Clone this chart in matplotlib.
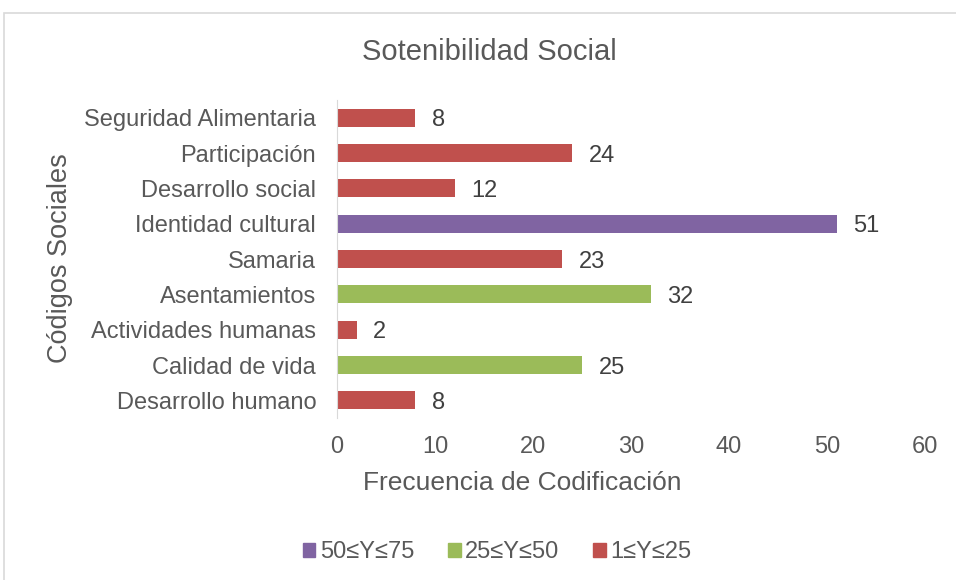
import matplotlib.pyplot as plt
from matplotlib.patches import Patch, Rectangle

plt.rcParams['font.family'] = ['Liberation Sans', 'DejaVu Sans']

# data (bottom to top)
categories = ['Desarrollo humano', 'Calidad de vida', 'Actividades humanas',
              'Asentamientos', 'Samaria', 'Identidad cultural',
              'Desarrollo social', 'Participación', 'Seguridad Alimentaria']
values = [8, 25, 2, 32, 23, 51, 12, 24, 8]
ranges = ['1≤Y≤25', '25≤Y≤50', '1≤Y≤25', '25≤Y≤50', '1≤Y≤25', '50≤Y≤75',
          '1≤Y≤25', '1≤Y≤25', '1≤Y≤25']
legend_order = ['50≤Y≤75', '25≤Y≤50', '1≤Y≤25']

colors = {'50≤Y≤75': '#8064A2', '25≤Y≤50': '#9BBB59', '1≤Y≤25': '#C0504D'}
txt = '#595959'

fig = plt.figure(figsize=(9.56, 5.8), dpi=100)
ax = fig.add_axes([0.3525, 0.2793, 0.615, 0.548])

# chart border
fig.patches.append(Rectangle((4 / 956, -0.05), 1.0, 1 - 13 / 580 + 0.05,
                             transform=fig.transFigure, fill=False,
                             edgecolor='#D9D9D9', linewidth=1.2))

y = range(len(categories))
ax.barh(y, values, height=0.51, color=[colors[r] for r in ranges])
for i, v in enumerate(values):
    ax.text(v + 1.7, i, str(v), va='center_baseline', ha='left', fontsize=17, color='#404040')

ax.set_xlim(0, 60)
ax.set_ylim(-0.5, len(categories) - 0.5)
ax.set_yticks(list(y))
ax.set_yticklabels(categories)
ax.set_xticks(range(0, 61, 10))
ax.tick_params(axis='both', length=0, labelsize=17, labelcolor=txt)
ax.tick_params(axis='x', pad=13)
ax.tick_params(axis='y', pad=15)

for s in ['top', 'right', 'bottom']:
    ax.spines[s].set_visible(False)
ax.spines['left'].set_color('#D9D9D9')

fig.text(522 / 956, 1 - 483 / 580, 'Frecuencia de Codificación', ha='center',
         va='center', fontsize=19, color=txt)
fig.text(60 / 956, 1 - 258 / 580, 'Códigos Sociales', ha='center', va='center',
         rotation=90, fontsize=19.5, color=txt)
fig.text(489 / 956, 1 - 52 / 580, 'Sotenibilidad Social', ha='center', va='center',
         fontsize=21, color=txt)

handles = [Patch(color=colors[k]) for k in legend_order]
fig.legend(handles, legend_order, loc='center', bbox_to_anchor=(497 / 956, 1 - 552 / 580),
           ncol=3, frameon=False, fontsize=17, labelcolor=txt,
           handlelength=0.55, handleheight=0.55, handletextpad=0.2, columnspacing=1.4)

fig.savefig('out.png', dpi=100)
